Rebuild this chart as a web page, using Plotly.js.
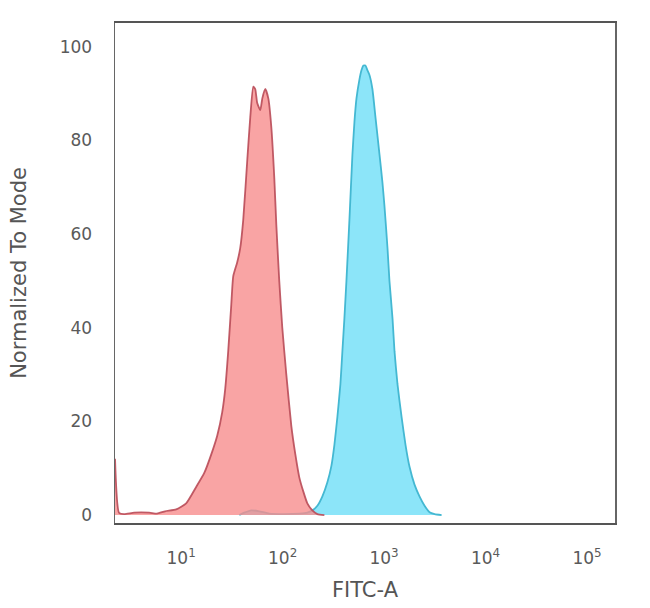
<!DOCTYPE html>
<html>
<head>
<meta charset="utf-8">
<script src="https://cdn.plot.ly/plotly-3.0.1.min.js"></script>
<style>html,body{margin:0;padding:0;background:#fff;}#chart{width:650px;height:608px;}</style>
</head>
<body>
<div id="chart"></div>
<script>
// Isotype control (red) histogram: FITC-A intensity vs normalized count
const redX = [2.23, 2.44, 2.74, 3.44, 4.83, 5.79, 6.95, 8.93, 11.2, 14.06, 16.9, 20.2, 22.7, 25.4, 27.2, 29.1, 31.2, 32.6, 35.7, 38.2, 40.9, 44.9, 48.0, 51.4, 53.7, 56.2, 60.3, 63.1, 67.5, 72.3, 77.3, 82.8, 86.7, 92.7, 99.3, 108.8, 121.9, 133.4, 146.2, 160.1, 175.3, 196.4, 220.1, 258.1];
const redY = [12, 0.5, 0.2, 0.5, 0.5, 0.3, 0.8, 1.2, 2.5, 6, 9, 13.5, 17, 22, 27, 35, 45, 51, 54, 57, 63, 76, 85, 91.5, 91, 88, 86.5, 89, 91, 89, 83, 72, 62, 50, 40, 30, 19, 13, 8, 5, 2.5, 1, 0.2, 0];
// Stained sample (blue) histogram
const blueX = [37.4, 41.9, 49.1, 58.9, 73.9, 104.0, 146.2, 175.3, 196.4, 220.1, 246.6, 276.2, 302.6, 323.9, 346.7, 371.2, 388.3, 406.4, 425.5, 455.3, 487.5, 510.5, 534.6, 571.4, 598.4, 626.6, 655.0, 685.5, 717.8, 767.4, 822.2, 901.6, 963.9, 1009, 1081, 1130, 1211, 1267, 1355, 1486, 1626, 1782, 1995, 2234, 2506, 2806, 3148, 3690];
const blueY = [0, 0.5, 1, 0.8, 0.3, 0.2, 0.3, 0.5, 1, 2, 4, 7, 10.5, 15, 21, 28, 35, 42, 50, 63, 77, 84, 89, 93, 95, 96, 96, 95, 94, 91, 85, 77, 71, 66, 57, 50, 42, 35, 28, 21, 15, 10.3, 6.5, 4, 2, 0.6, 0.2, 0];

const xTickVals = [10, 100, 1000, 10000, 100000];
const xTickText = ['10<sup>1</sup>', '10<sup>2</sup>', '10<sup>3</sup>', '10<sup>4</sup>', '10<sup>5</sup>'];
const yTickVals = [0, 20, 40, 60, 80, 100];

const traces = [
  {x: blueX, y: blueY, type: 'scatter', mode: 'lines', fill: 'tozeroy',
   fillcolor: 'rgb(140,229,249)', line: {color: '#44b8d2', width: 1.8, shape: 'spline', smoothing: 0.5},
   hoverinfo: 'skip', showlegend: false},
  {x: redX, y: redY, type: 'scatter', mode: 'lines', fill: 'tozeroy',
   fillcolor: 'rgba(248,141,141,0.8)', line: {color: 'rgba(185,75,88,0.9)', width: 1.8, shape: 'spline', smoothing: 0.5},
   hoverinfo: 'skip', showlegend: false}
];

const axisFont = {family: 'DejaVu Sans, Verdana, sans-serif', size: 17, color: '#5a5a5a'};
const titleFont = {family: 'DejaVu Sans, Verdana, sans-serif', size: 21, color: '#555'};
const layout = {
  width: 650, height: 608,
  margin: {l: 115, r: 35, t: 23, b: 85},
  paper_bgcolor: '#fff', plot_bgcolor: '#fff',
  showlegend: false,
  xaxis: {
    type: 'log', range: [0.348, 5.276], autorange: false,
    tickvals: xTickVals, ticktext: xTickText,
    ticks: 'outside', ticklen: 19, tickcolor: 'rgba(0,0,0,0)',
    tickfont: axisFont,
    showgrid: false, zeroline: false,
    showline: true, mirror: true, linecolor: '#555', linewidth: 2,
    title: {text: 'FITC-A', font: titleFont, standoff: 15},
    automargin: false
  },
  yaxis: {
    range: [-1.7, 105.1], autorange: false,
    tickvals: yTickVals,
    ticks: 'outside', ticklen: 18, tickcolor: 'rgba(0,0,0,0)',
    tickfont: axisFont,
    showgrid: false, zeroline: false,
    showline: true, mirror: true, linecolor: '#666', linewidth: 1.5,
    title: {text: 'Normalized To Mode', font: titleFont, standoff: 27},
    automargin: false
  }
};

Plotly.newPlot('chart', traces, layout, {displayModeBar: false, staticPlot: true});
</script>
</body>
</html>
